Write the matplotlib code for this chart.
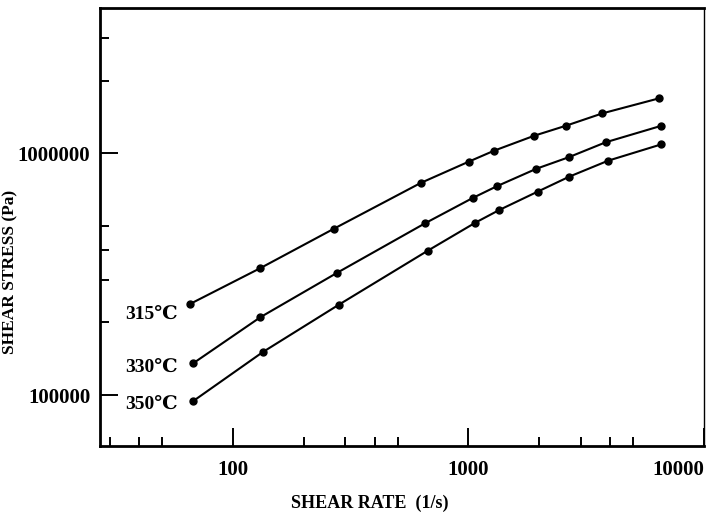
import matplotlib
matplotlib.use('Agg')
import matplotlib.pyplot as plt
from matplotlib.ticker import FixedLocator, NullFormatter

plt.rcParams['font.family'] = ['Liberation Serif', 'DejaVu Serif']
plt.rcParams['font.weight'] = 'bold'

# shear rate (1/s) and shear stress (Pa)
rate_315 = [66, 131, 268, 627, 1003, 1285, 1905, 2595, 3707, 6440]
stress_315 = [238700, 335600, 487700, 755000, 925000, 1027000, 1185000, 1303000, 1466000, 1691000]

rate_330 = [68, 131, 278, 655, 1043, 1319, 1945, 2662, 3828, 6553]
stress_330 = [135600, 210200, 321400, 514400, 654500, 731700, 865000, 964500, 1113000, 1300000]

rate_350 = [68, 134, 281, 672, 1071, 1352, 1966, 2680, 3917, 6590]
stress_350 = [94600, 150700, 236300, 396000, 517500, 583700, 695000, 802000, 933700, 1091000]

curves = [('315℃', rate_315, stress_315, 215000),
          ('330℃', rate_330, stress_330, 129800),
          ('350℃', rate_350, stress_350, 91200)]

fig = plt.figure(figsize=(7.09, 5.16), dpi=100)
ax = fig.add_axes([0.141, 0.1357, 0.852, 0.8488])
ax.set_xscale('log')
ax.set_yscale('log')

for name, xs, ys, ylab in curves:
    ax.plot(xs, ys, '-', color='black', lw=1.5, marker='o', ms=5)
    ax.text(58.5, ylab, name, ha='right', va='center', fontsize=14, fontweight='bold')

ax.set_xlim(27.3, 10000)
ax.set_ylim(61600, 4.0e6)

ax.xaxis.set_major_locator(FixedLocator([100, 1000, 10000]))
ax.xaxis.set_minor_locator(FixedLocator([30, 40, 50, 200, 300, 400, 500, 2000, 3000, 4000, 5000]))
ax.yaxis.set_major_locator(FixedLocator([100000, 1000000]))
ax.yaxis.set_minor_locator(FixedLocator([200000, 300000, 400000, 500000, 2000000, 3000000]))
ax.set_xticklabels(['100', '1000', '10000'])
ax.set_yticklabels(['100000', '1000000'])
ax.xaxis.set_minor_formatter(NullFormatter())
ax.yaxis.set_minor_formatter(NullFormatter())
ax.get_xticklabels()[2].set_ha('right')

ax.tick_params(which='major', direction='in', length=13, width=1.4, labelsize=15)
ax.tick_params(which='minor', direction='in', length=6.5, width=1.4)
ax.tick_params(axis='x', which='major', pad=10)
ax.tick_params(axis='y', which='major', pad=7)

for s in ['left', 'bottom', 'top']:
    ax.spines[s].set_linewidth(2)
ax.spines['right'].set_linewidth(1)

ax.set_xlabel('SHEAR RATE  (1/s)', fontsize=13, fontweight='bold')
ax.set_ylabel('SHEAR STRESS (Pa)', fontsize=12.5, fontweight='bold')
ax.xaxis.set_label_coords(0.447, -0.112)
ax.yaxis.set_label_coords(-0.135, 0.397)

plt.savefig('out.png', dpi=100)
